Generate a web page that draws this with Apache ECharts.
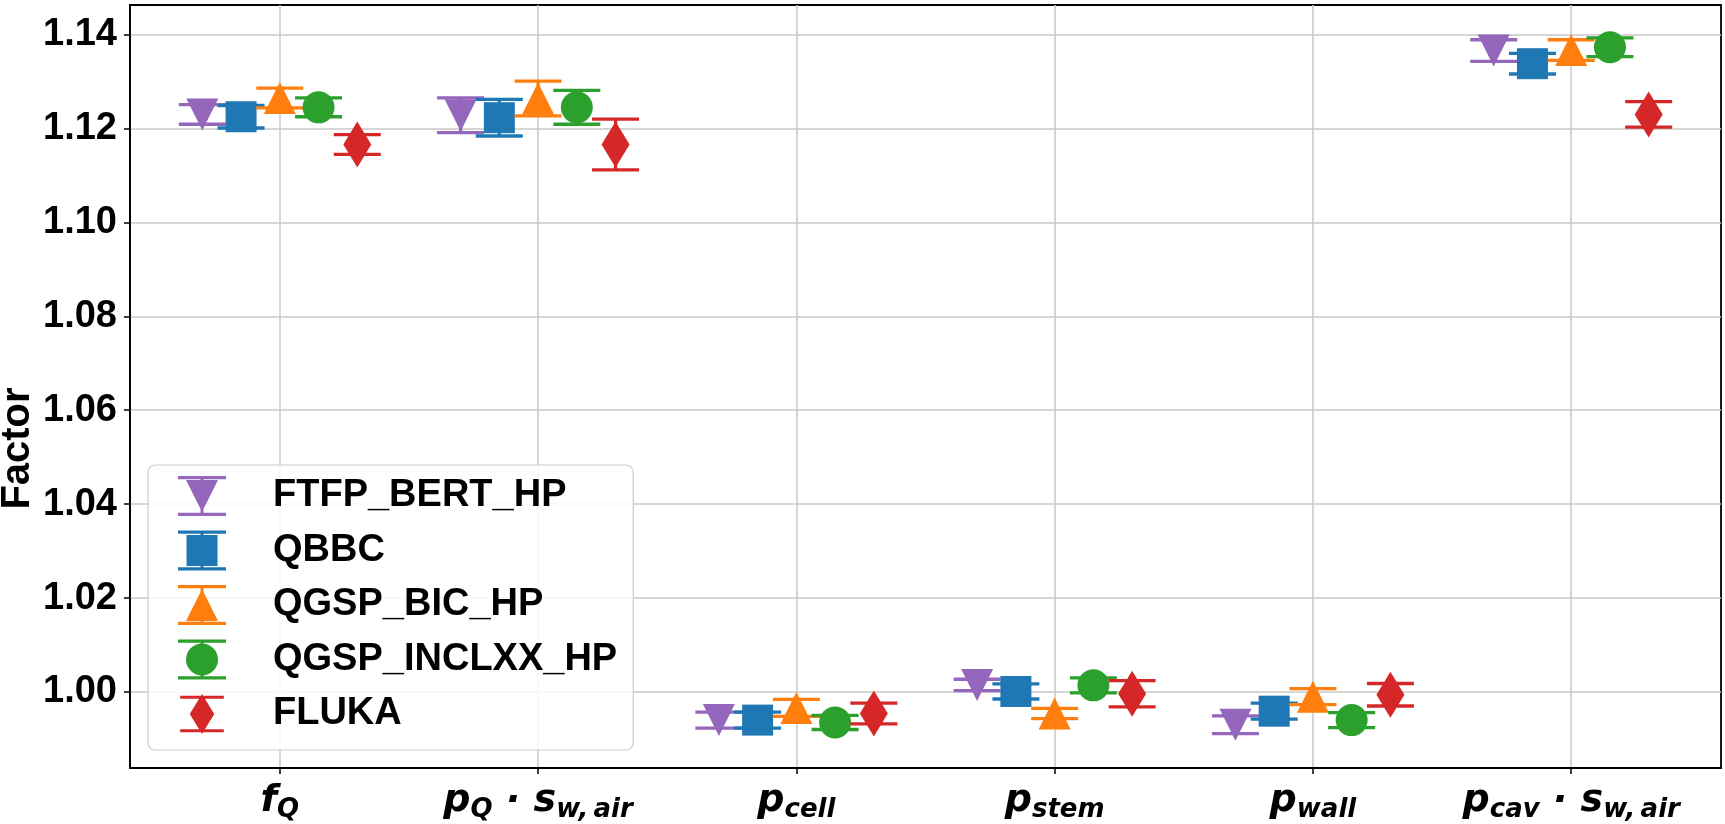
<!DOCTYPE html>
<html>
<head>
<meta charset="utf-8">
<script src="https://cdn.jsdelivr.net/npm/echarts@6/dist/echarts.min.js"></script>
<style>
html,body{margin:0;padding:0;background:#fff;}
#chart{width:1725px;height:824px;}
</style>
</head>
<body>
<div id="chart"></div>
<script>
// ---------- data ----------
const tickLabels = [
  '{m|f}{s|Q}',
  '{m|p}{s|Q}{m| · s}{s|w,\u2009air}',
  '{m|p}{s|cell}',
  '{m|p}{s|stem}',
  '{m|p}{s|wall}',
  '{m|p}{s|cav}{m| · s}{s|w,\u2009air}'
];
const yTicks = [1.00, 1.02, 1.04, 1.06, 1.08, 1.10, 1.12, 1.14];
const models = ['FTFP_BERT_HP', 'QBBC', 'QGSP_BIC_HP', 'QGSP_INCLXX_HP', 'FLUKA'];

const ftfpValues   = [1.1230, 1.1228, 0.9940, 1.0015, 0.9930, 1.1366];
const ftfpErrors   = [0.0021, 0.0037, 0.0017, 0.0012, 0.0019, 0.0023];
const qbbcValues   = [1.1225, 1.1223, 0.9940, 1.0001, 0.9959, 1.1338];
const qbbcErrors   = [0.0024, 0.0039, 0.0017, 0.0016, 0.0017, 0.0022];
const bicValues    = [1.1265, 1.1264, 0.9966, 0.9954, 0.9990, 1.1367];
const bicErrors    = [0.0021, 0.0037, 0.0018, 0.0011, 0.0017, 0.0022];
const inclxxValues = [1.1245, 1.1245, 0.9935, 1.0014, 0.9940, 1.1373];
const inclxxErrors = [0.0020, 0.0036, 0.0015, 0.0016, 0.0016, 0.0020];
const flukaValues  = [1.1166, 1.1166, 0.9954, 0.9996, 0.9994, 1.1230];
const flukaErrors  = [0.0021, 0.0054, 0.0022, 0.0028, 0.0024, 0.0027];

// ---------- styling ----------
const colors  = ['#9467bd', '#1f77b4', '#ff7f0e', '#2ca02c', '#d62728'];
const offsets = [-0.3, -0.15, 0, 0.15, 0.3];
const shapes  = ['down', 'square', 'up', 'circle', 'diamond'];
const allValues = [ftfpValues, qbbcValues, bicValues, inclxxValues, flukaValues];
const allErrors = [ftfpErrors, qbbcErrors, bicErrors, inclxxErrors, flukaErrors];

const capPath = 'M0,2 L48,2 L48,5.3 L0,5.3 Z M0,38.7 L48,38.7 L48,42 L0,42 Z M22.5,2 L25.5,2 L25.5,42 L22.5,42 Z ';
const iconPaths = {
  down:   'path://' + capPath + 'M8,6 L40,6 L24,38 Z',
  square: 'path://' + capPath + 'M8.5,6.5 L39.5,6.5 L39.5,37.5 L8.5,37.5 Z',
  up:     'path://' + capPath + 'M24,6 L40,38 L8,38 Z',
  circle: 'path://' + capPath + 'M24,6 A16,16 0 1 1 24,38 A16,16 0 1 1 24,6 Z',
  diamond:'path://' + capPath + 'M24,0 L37.5,22 L24,44 L10.5,22 Z'
};

function markerShape(kind, cx, cy, color) {
  const st = {fill: color};
  switch (kind) {
    case 'down':
      return {type: 'polygon', shape: {points: [[cx - 16, cy - 16], [cx + 16, cy - 16], [cx, cy + 16]]}, style: st};
    case 'up':
      return {type: 'polygon', shape: {points: [[cx, cy - 16], [cx + 16, cy + 16], [cx - 16, cy + 16]]}, style: st};
    case 'square':
      return {type: 'rect', shape: {x: cx - 15.5, y: cy - 15.5, width: 31, height: 31}, style: st};
    case 'circle':
      return {type: 'circle', shape: {cx: cx, cy: cy, r: 16}, style: st};
    default:
      return {type: 'polygon', shape: {points: [[cx, cy - 23], [cx + 14, cy], [cx, cy + 23], [cx - 14, cy]]}, style: st};
  }
}

const series = models.map(function (name, k) {
  const data = allValues[k].map(function (v, i) { return [i + offsets[k], v, allErrors[k][i]]; });
  return {
    name: name,
    type: 'custom',
    itemStyle: {color: colors[k]},
    data: data,
    encode: {x: 0, y: 1},
    renderItem: function (params, api) {
      const x = api.value(0), y = api.value(1), e = api.value(2);
      const c = api.coord([x, y]);
      const t = api.coord([x, y + e]);
      const b = api.coord([x, y - e]);
      const col = colors[k];
      const ls = {stroke: col, lineWidth: 3.3};
      return {
        type: 'group',
        children: [
          {type: 'line', shape: {x1: c[0], y1: t[1], x2: c[0], y2: b[1]}, style: ls},
          {type: 'line', shape: {x1: c[0] - 23.5, y1: t[1], x2: c[0] + 23.5, y2: t[1]}, style: ls},
          {type: 'line', shape: {x1: c[0] - 23.5, y1: b[1], x2: c[0] + 23.5, y2: b[1]}, style: ls},
          markerShape(shapes[k], c[0], c[1], col)
        ]
      };
    }
  };
});

const chart = echarts.init(document.getElementById('chart'), null, {renderer: 'canvas'});
chart.setOption({
  animation: false,
  backgroundColor: '#ffffff',
  grid: {left: 130, right: 4, top: 5, bottom: 56, show: true, borderColor: '#000', borderWidth: 1.8,
         containLabel: false, outerBoundsMode: 'none'},
  legend: {
    orient: 'vertical',
    left: 148, top: 465,
    padding: [11, 16, 16, 30],
    itemWidth: 48, itemHeight: 40, itemGap: 14.5,
    backgroundColor: 'rgba(255,255,255,0.85)',
    borderColor: '#cccccc', borderWidth: 1.2, borderRadius: 7,
    textStyle: {fontFamily: 'Liberation Sans', fontWeight: 'bold', fontSize: 38, color: '#000', padding: [0, 0, 0, 42]},
    data: models.map(function (m, k) { return {name: m, icon: iconPaths[shapes[k]]}; })
  },
  xAxis: {
    type: 'value', min: -0.58, max: 5.58,
    axisLine: {show: true, onZero: false, lineStyle: {color: '#000', width: 1.8}},
    axisTick: {show: true, length: 6, lineStyle: {color: '#000', width: 1.5}, customValues: [0, 1, 2, 3, 4, 5]},
    splitLine: {show: true, lineStyle: {color: '#c8c8c8', width: 1.5}},
    axisLabel: {
      customValues: [0, 1, 2, 3, 4, 5],
      margin: 11,
      formatter: function (v) { return tickLabels[Math.round(v)]; },
      rich: {
        m: {fontFamily: 'DejaVu Sans', fontWeight: 'bold', fontStyle: 'italic', fontSize: 38, color: '#000', lineHeight: 44},
        s: {fontFamily: 'DejaVu Sans', fontWeight: 'bold', fontStyle: 'italic', fontSize: 26, color: '#000', lineHeight: 16, verticalAlign: 'bottom'}
      }
    }
  },
  yAxis: {
    type: 'value', min: 0.9838, max: 1.1463,
    name: 'Factor', nameLocation: 'middle', nameRotate: 90, nameGap: 92, nameMoveOverlap: false,
    nameTextStyle: {fontFamily: 'Liberation Sans', fontWeight: 'bold', fontSize: 40, color: '#000', padding: [0, 124, 0, 0]},
    axisLine: {show: true, onZero: false, lineStyle: {color: '#000', width: 1.8}},
    axisTick: {show: true, length: 6, lineStyle: {color: '#000', width: 1.5}, customValues: yTicks},
    splitLine: {show: true, lineStyle: {color: '#c8c8c8', width: 1.5}},
    axisLabel: {
      customValues: yTicks,
      margin: 13,
      formatter: function (v) { return v.toFixed(2); },
      fontFamily: 'Liberation Sans', fontWeight: 'bold', fontSize: 38, color: '#000'
    }
  },
  series: series
});
</script>
</body>
</html>
